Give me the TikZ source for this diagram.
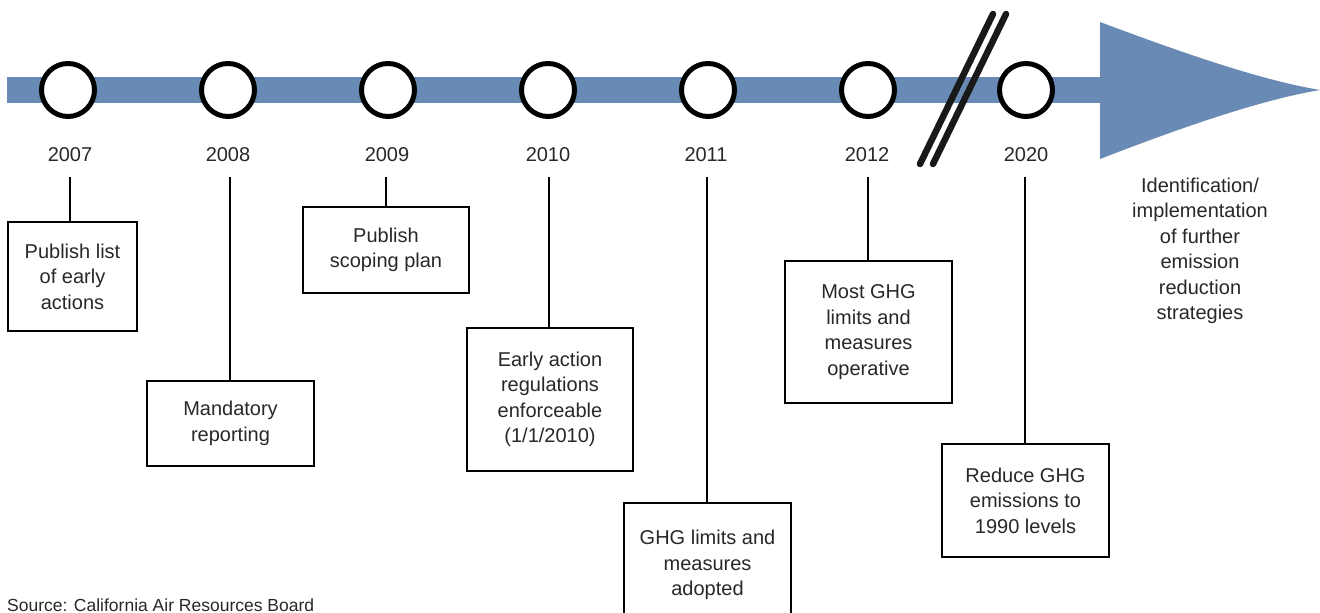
\documentclass[tikz,border=0pt]{standalone}
\usepackage{fontspec}
\setmainfont{Liberation Sans}
\definecolor{barblue}{RGB}{105,138,180}
\definecolor{txt}{RGB}{40,40,40}
\begin{document}
\begin{tikzpicture}[x=1pt,y=-1pt,
  every node/.style={text=txt, font=\fontsize{20}{25.5}\selectfont},
  yrcircle/.style={circle, draw=black, line width=5pt, fill=white, minimum size=53pt, inner sep=0pt},
  yrlabel/.style={inner sep=0pt},
  evbox/.style={draw=black, line width=1.8pt, fill=white, align=center, inner sep=0pt},
  conn/.style={draw=black, line width=1.8pt},
  breakmark/.style={draw=black!90, line width=6.5pt, line cap=round}]
\clip (0,0) rectangle (1320,613);
\fill[white] (0,0) rectangle (1320,613);
% bar and arrowhead
\fill[barblue] (7,77) rectangle (1101,103);
\fill[barblue] (1100,22) .. controls (1180,52) and (1260,80) .. (1320,90)
  .. controls (1260,100) and (1180,128) .. (1100,159) -- cycle;
% break marks
\coordinate (s1a) at (993,14); \coordinate (s1b) at (920,164);
\coordinate (s2a) at (1006,14); \coordinate (s2b) at (933,164);
\draw[breakmark] (s1a) -- (s1b);
\draw[breakmark] (s2a) -- (s2b);
% circles
\foreach \n/\x in {c07/68,c08/228,c09/388,c10/548,c11/708,c12/868,c20/1026}
  \node[yrcircle] (\n) at (\x,90) {};
% year labels
\node[yrlabel] (y07) at (70,155) {2007};
\node[yrlabel] (y08) at (228,155) {2008};
\node[yrlabel] (y09) at (387,155) {2009};
\node[yrlabel] (y10) at (548,155) {2010};
\node[yrlabel] (y11) at (706,155) {2011};
\node[yrlabel] (y12) at (867,155) {2012};
\node[yrlabel] (y20) at (1026,155) {2020};
% boxes
\node[evbox, minimum width=129pt, minimum height=109pt] (b07) at (72.5,276.5) {Publish list\\of early\\actions};
\node[evbox, minimum width=167pt, minimum height=85pt] (b08) at (230.5,423.5) {Mandatory\\reporting};
\node[evbox, minimum width=166pt, minimum height=86pt] (b09) at (386,250) {Publish\\scoping plan};
\node[evbox, minimum width=166pt, minimum height=143pt] (b10) at (550,399.5) {Early action\\regulations\\enforceable\\(1/1/2010)};
\node[evbox, minimum width=167pt, minimum height=124pt] (b11) at (707.5,565) {GHG limits and\\measures\\adopted};
\node[evbox, minimum width=167pt, minimum height=142pt] (b12) at (868.5,332) {Most GHG\\limits and\\measures\\operative};
\node[evbox, minimum width=167pt, minimum height=113pt] (b20) at (1025.5,500.5) {Reduce GHG\\emissions to\\1990 levels};
% connector tops
\coordinate (t07) at (70,177);
\coordinate (t08) at (230,177);
\coordinate (t09) at (386,177);
\coordinate (t10) at (549,177);
\coordinate (t11) at (707,177);
\coordinate (t12) at (868,177);
\coordinate (t20) at (1025,177);
\foreach \t/\b in {t07/b07,t08/b08,t09/b09,t10/b10,t11/b11,t12/b12,t20/b20}
  \draw[conn] (\t) -- (\t |- \b.north);
% free text
\node[align=center] (further) at (1200,251) {Identification/\\implementation\\of further\\emission\\reduction\\strategies};
\node[anchor=base west, inner sep=0pt, font=\fontsize{17.5}{20}\selectfont] (src) at (7,611.5) {Source: California Air Resources Board};
\end{tikzpicture}
\end{document}
